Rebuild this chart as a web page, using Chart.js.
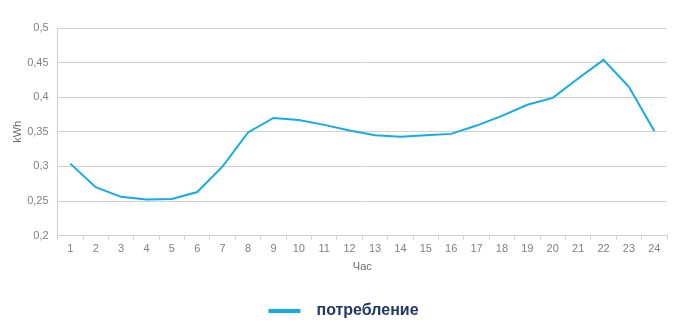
<!DOCTYPE html>
<html>
<head>
<meta charset="utf-8">
<script src="https://cdn.jsdelivr.net/npm/chart.js@4/dist/chart.umd.min.js"></script>
<style>
  html, body { margin: 0; padding: 0; background: #fff; }
  #wrap { width: 677px; height: 330px; position: relative; }
</style>
</head>
<body>
<div id="wrap"><canvas id="chart"></canvas></div>
<script>
// hours of the day
const hours = ['1','2','3','4','5','6','7','8','9','10','11','12','13','14','15','16','17','18','19','20','21','22','23','24'];
// consumption per hour, kWh
const consumption = [0.304, 0.270, 0.256, 0.252, 0.253, 0.263, 0.300, 0.349, 0.370, 0.367, 0.360, 0.352,
                     0.345, 0.343, 0.345, 0.347, 0.359, 0.373, 0.389, 0.399, 0.427, 0.454, 0.415, 0.351];
const seriesName = 'потребление';
const yTicks = [0.2, 0.25, 0.3, 0.35, 0.4, 0.45, 0.5];

const blue = '#12ade6';
const tickColor = '#808080';
const gridColor = '#d0d0d0';

Chart.defaults.font.family = '"Liberation Sans", Arial, sans-serif';

// the legend sits a bit right of centre in the original
const nudgeLegend = {
  id: 'nudgeLegend',
  afterLayout: function(chart) {
    chart.legend.left += 8;
    chart.legend.right += 8;
  }
};

var ctx = document.getElementById('chart').getContext('2d');
new Chart(ctx, {
  type: 'line',
  data: {
    labels: hours,
    datasets: [{
      label: seriesName,
      data: consumption,
      borderColor: blue,
      backgroundColor: blue,
      borderWidth: 2,
      pointRadius: 0,
      tension: 0,
      fill: false
    }]
  },
  options: {
    responsive: true,
    maintainAspectRatio: false,
    animation: false,
    layout: { padding: { top: 28, right: 10, left: 4, bottom: 1 } },
    scales: {
      x: {
        offset: true,
        grid: {
          offset: true,
          drawOnChartArea: false,
          drawTicks: true,
          tickLength: 4,
          color: gridColor
        },
        border: { color: gridColor },
        ticks: { color: tickColor, font: { size: 11 }, padding: 3, maxRotation: 0, autoSkip: false },
        title: { display: true, text: 'Час', color: '#6b6b6b', font: { size: 11 }, padding: { top: 2, bottom: 9 } }
      },
      y: {
        min: 0.2,
        max: 0.5,
        afterBuildTicks: function(axis) {
          axis.ticks = yTicks.map(function(v) { return { value: v }; });
        },
        grid: { color: gridColor, drawTicks: false },
        border: { color: gridColor },
        ticks: {
          color: tickColor,
          font: { size: 11 },
          padding: 9,
          callback: function(v) { return String(v).replace('.', ','); }
        },
        title: { display: true, text: 'kWh', color: '#6b6b6b', font: { size: 11 }, padding: { top: 7, bottom: -6 } }
      }
    },
    plugins: {
      legend: {
        position: 'bottom',
        labels: {
          boxWidth: 32,
          boxHeight: 4,
          padding: 20,
          color: '#1f3864',
          font: { size: 16, weight: 'bold' },
          generateLabels: function(chart) {
            var items = Chart.defaults.plugins.legend.labels.generateLabels(chart);
            items.forEach(function(it) { it.text = '\u2002' + it.text; it.lineWidth = 0; });
            return items;
          }
        }
      },
      tooltip: { enabled: false }
    }
  },
  plugins: [nudgeLegend]
});
</script>
</body>
</html>
